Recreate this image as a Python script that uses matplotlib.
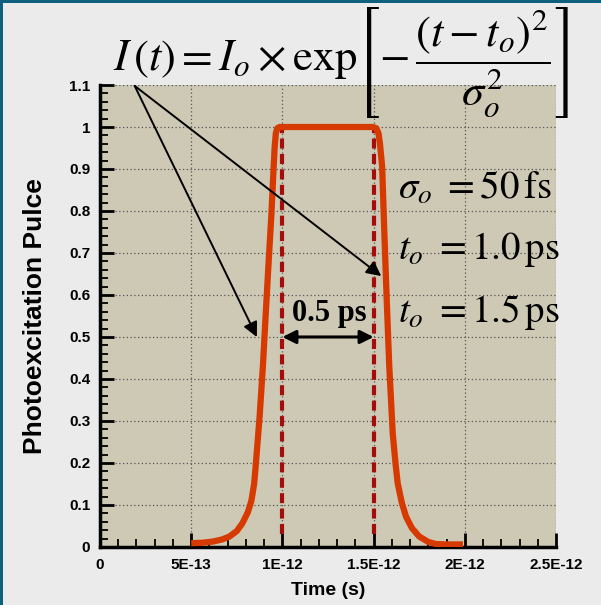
import matplotlib
matplotlib.use("Agg")
import matplotlib.pyplot as plt
from matplotlib.patches import Rectangle

plt.rcParams['mathtext.fontset'] = 'stix'
plt.rcParams['font.family'] = ['Liberation Sans', 'DejaVu Sans']

# pulse (time in units of 1E-12 s)
t_ps = [0.50, 0.56, 0.62, 0.67, 0.71, 0.75, 0.78, 0.81, 0.83, 0.845, 0.853,
        0.875, 0.893, 0.908, 0.923, 0.939, 0.952, 0.958, 0.964, 0.972, 0.985,
        1.10, 1.30, 1.495, 1.515, 1.527, 1.535, 1.547, 1.559, 1.572, 1.586,
        1.605, 1.62, 1.632, 1.655, 1.678, 1.71, 1.75, 1.80, 1.842, 1.90, 1.99]
pulse = [0.009, 0.010, 0.013, 0.018, 0.025, 0.038, 0.056, 0.082, 0.11, 0.15, 0.19,
         0.31, 0.43, 0.55, 0.667, 0.786, 0.905, 0.955, 0.985, 0.997, 1.0,
         1.0, 1.0, 1.0, 0.997, 0.985, 0.96, 0.905, 0.747, 0.588, 0.43,
         0.27, 0.20, 0.152, 0.105, 0.072, 0.045, 0.025, 0.012, 0.007, 0.006, 0.006]
t_marks = [1.0e-12, 1.5e-12]
x_ticks = [0, 5e-13, 1e-12, 1.5e-12, 2e-12, 2.5e-12]
x_labels = ['0', '5E-13', '1E-12', '1.5E-12', '2E-12', '2.5E-12']
y_ticks = [0, 0.1, 0.2, 0.3, 0.4, 0.5, 0.6, 0.7, 0.8, 0.9, 1, 1.1]
y_labels = ['0', '0.1', '0.2', '0.3', '0.4', '0.5', '0.6', '0.7', '0.8', '0.9', '1', '1.1']

fig = plt.figure(figsize=(6.01, 6.05), dpi=100, facecolor='#ebebeb')
ax = fig.add_axes([0.1664, 0.0959, 0.7587, 0.7636])
ax.set_facecolor('#cdc9b4')

t = [v * 1e-12 for v in t_ps]
ax.plot(t, pulse, color='#d63a00', lw=4.5, solid_capstyle='butt',
        solid_joinstyle='round', zorder=4)
for tm in t_marks:
    ax.plot([tm, tm], [0.03, 1.0], color='#a50d0d', lw=3, dashes=(2.4, 1.3), zorder=3)

ax.set_xlim(0, 2.5e-12)
ax.set_ylim(0, 1.1)
ax.set_xticks(x_ticks)
ax.set_xticklabels(x_labels)
ax.set_yticks(y_ticks)
ax.set_yticklabels(y_labels)
ax.set_xticks([i * 1e-13 for i in range(26)], minor=True)
ax.set_yticks([i * 0.02 for i in range(56)], minor=True)
ax.tick_params(which='major', direction='in', length=10, width=2, labelsize=11, pad=8)
ax.tick_params(axis='y', which='major', pad=7)
ax.tick_params(which='minor', direction='in', length=6, width=1.3)
for lab in ax.get_xticklabels() + ax.get_yticklabels():
    lab.set_fontweight('bold')
ax.grid(True, which='major', color='#555555', ls=(0, (1, 2)), lw=0.9)
ax.set_axisbelow(True)
for s in ['top', 'right']:
    ax.spines[s].set_visible(False)
for s in ['left', 'bottom']:
    ax.spines[s].set_linewidth(2.5)

ax.set_xlabel('Time (s)', fontsize=14, fontweight='bold', labelpad=7)
ax.set_ylabel('Photoexcitation Pulce', fontsize=19, fontweight='bold', labelpad=16)

# pointer arrows from the equation
src = (0.19e-12, 1.098)
for tip in [(0.86e-12, 0.50), (1.542e-12, 0.645)]:
    ax.annotate('', xy=tip, xytext=src,
                arrowprops=dict(arrowstyle='-|>', color='black', lw=1.4,
                                mutation_scale=22, shrinkA=0, shrinkB=0), zorder=5)

# 0.5 ps width arrow
ax.annotate('', xy=(t_marks[1], 0.5), xytext=(t_marks[0], 0.5),
            arrowprops=dict(arrowstyle='<|-|>', color='black', lw=2.2,
                            mutation_scale=20, shrinkA=0, shrinkB=0), zorder=5)
ax.text(1.255e-12, 0.557, '0.5 ps', fontsize=22, fontweight='bold',
        family='Liberation Serif', ha='center', va='center', zorder=5)

ax.text(0.653, 0.777, r'$\sigma_o\ = 50\,\mathrm{fs}$', transform=ax.transAxes, fontsize=28, va='center', ha='left', clip_on=False)
ax.text(0.653, 0.643, r'$t_o\ =1.0\,\mathrm{ps}$', transform=ax.transAxes, fontsize=28, va='center', ha='left', clip_on=False)
ax.text(0.653, 0.509, r'$t_o\ =1.5\,\mathrm{ps}$', transform=ax.transAxes, fontsize=28, va='center', ha='left', clip_on=False)

fig.text(0.188, 0.897, r'$I\,(t) = I_o \times \mathrm{exp}\left[-\,\dfrac{(t-t_o)^2}{\sigma_o^2}\right]$',
         fontsize=32, ha='left', va='center')

# frame edges
fig.add_artist(Rectangle((0, 0), 0.005, 1, transform=fig.transFigure, color='#0f5f7f', lw=0))
fig.add_artist(Rectangle((0, 0.995), 1, 0.005, transform=fig.transFigure, color='#0f5f7f', lw=0))

fig.savefig('out.png', dpi=100, facecolor=fig.get_facecolor())
